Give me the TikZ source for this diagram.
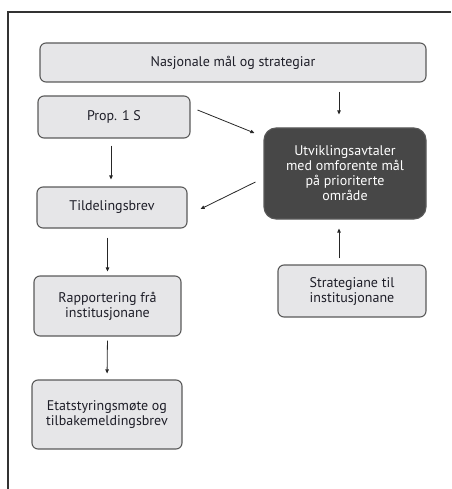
\documentclass[tikz,border=0pt]{standalone}
\usepackage{fontspec}
\setmainfont{PT Sans}
\usetikzlibrary{arrows.meta}
\definecolor{boxfill}{HTML}{E6E6E8}
\definecolor{boxdraw}{HTML}{5A5A5A}
\definecolor{darkfill}{HTML}{474747}
\definecolor{txt}{HTML}{1E1E28}
\begin{document}
\begin{tikzpicture}[x=1pt,y=-1pt,
  lbox/.style={draw=boxdraw,line width=1.1pt,fill=boxfill,rounded corners=6pt,
    align=center,inner sep=0pt,font=\fontsize{14}{15}\selectfont,text=txt},
  dbox/.style={draw=boxdraw,line width=1.1pt,fill=darkfill,rounded corners=12pt,
    align=center,inner sep=0pt,font=\fontsize{14}{15}\selectfont,text=white},
  arr/.style={-{Triangle[length=4pt,width=3.5pt]},line width=0.8pt,black!85}]
\useasboundingbox (0,0) rectangle (451,489);
\draw[line width=1.4pt,black!80] (451,12) -- (8,12) -- (8,489);
\node[lbox,minimum width=386pt,minimum height=39pt] (nas) at (233,62.5) {Nasjonale mål og strategiar};
\node[lbox,minimum width=152pt,minimum height=42pt] (prop) at (114,117) {Prop. 1 S};
\node[dbox,minimum width=162pt,minimum height=91pt] (utv) at (345,173.5) {Utviklingsavtaler\\med omforente mål\\på prioriterte\\område};
\node[lbox,minimum width=150pt,minimum height=41pt] (tild) at (112,207.5) {Tildelingsbrev};
\node[lbox,minimum width=147pt,minimum height=60pt] (rapp) at (107.5,306) {Rapportering frå\\institusjonane};
\node[lbox,minimum width=148pt,minimum height=52pt] (strat) at (352,291) {Strategiane til\\institusjonane};
\node[lbox,minimum width=150pt,minimum height=69pt] (etat) at (107,414.5) {Etatstyringsmøte og\\tilbakemeldingsbrev};
% connectors
\coordinate (cx) at (339,0);
\draw[arr,shorten <=9pt,shorten >=13pt] (nas.south -| cx) -- (utv.north -| cx);
\draw[arr] ([xshift=7pt,yshift=7pt]prop.east) -- ([xshift=-9pt,yshift=40.5pt]utv.west);
\draw[arr,shorten <=7pt,shorten >=7pt] ([xshift=-1pt]prop.south -| tild.center) -- ([xshift=-1pt]tild.north);
\draw[arr] ([xshift=-8pt,yshift=-8.5pt]utv.west) -- ([xshift=13pt,yshift=-1.5pt]tild.east);
\draw[arr,shorten <=9pt,shorten >=4pt] (tild.south -| rapp.center) -- (rapp.north);
\draw[arr,shorten <=6pt,shorten >=9pt] (strat.north -| cx) -- (utv.south -| cx);
\draw[arr,shorten <=4pt,shorten >=6pt] (rapp.south) -- (etat.north);
\end{tikzpicture}
\end{document}
